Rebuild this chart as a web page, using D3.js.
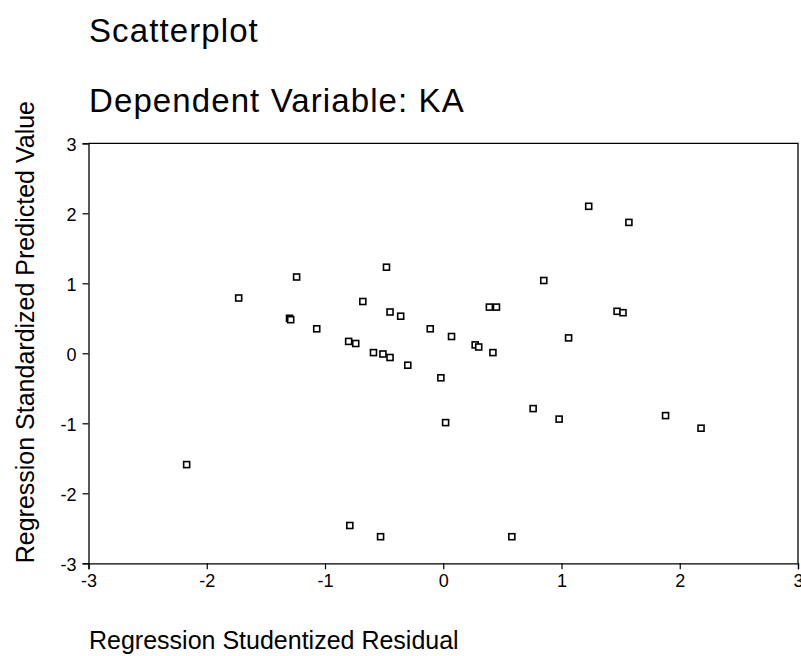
<!DOCTYPE html>
<html>
<head>
<meta charset="utf-8">
<script src="https://cdn.jsdelivr.net/npm/d3@7"></script>
<style>
    body { margin: 0; background: #fff; }
    text { font-family: "Liberation Sans", Arial, sans-serif; fill: #000; }
</style>
</head>
<body>
<div id="chart"></div>
<script>
// residual (x) vs standardized predicted value (y)
var residuals = [-2.17, -1.73, -1.24, -1.30, -1.29, -1.07, -0.80, -0.74, -0.79, -0.68,
    -0.59, -0.51, -0.53, -0.48, -0.45, -0.45, -0.36, -0.30, -0.11, -0.02,
    0.02, 0.07, 0.27, 0.30, 0.39, 0.45, 0.42, 0.58, 0.76, 0.85,
    0.98, 1.06, 1.23, 1.47, 1.52, 1.57, 1.88, 2.18]
var predicted = [-1.59, 0.79, 1.09, 0.50, 0.48, 0.35, 0.17, 0.14, -2.46, 0.74,
    0.01, -0.01, -2.62, 1.23, 0.59, -0.06, 0.53, -0.17, 0.35, -0.35,
    -0.99, 0.24, 0.12, 0.09, 0.66, 0.66, 0.01, -2.62, -0.79, 1.04,
    -0.94, 0.22, 2.10, 0.60, 0.58, 1.87, -0.89, -1.07]
var tickValues = [-3, -2, -1, 0, 1, 2, 3]
var titleLines = ["Scatterplot", "Dependent Variable: KA"]
var xLabel = "Regression Studentized Residual", yLabel = "Regression Standardized Predicted Value"

const width = 801, height = 656
const plot = {left: 88.5, right: 798, top: 143.3, bottom: 563.3}

var svg = d3.select("#chart").append("svg").attr("width", width).attr("height", height)

var x = d3.scaleLinear().domain([-3, 3]).range([plot.left, plot.right])
var y = d3.scaleLinear().domain([-3, 3]).range([plot.bottom, plot.top])

// titles
svg.selectAll("text.title").data(titleLines).enter().append("text").attr("class", "title")
    .attr("x", 89).attr("y", (d, i) => 41.7 + i * 70)
    .style("font-size", "33px").style("letter-spacing", "1.1px")
    .text(d => d)

// frame (top and right sides)
svg.append("path")
    .attr("d", "M" + plot.left + "," + plot.top + "H" + plot.right + "V" + plot.bottom)
    .attr("fill", "none").attr("stroke", "#000").attr("stroke-width", 1.3)

var xAxis = svg.append("g").attr("transform", "translate(0," + plot.bottom + ")")
    .call(d3.axisBottom(x).tickValues(tickValues).tickSize(6).tickPadding(5).tickFormat(d3.format("d")))
var yAxis = svg.append("g").attr("transform", "translate(" + plot.left + ",0)")
    .call(d3.axisLeft(y).tickValues(tickValues).tickSize(6).tickPadding(6).tickFormat(d3.format("d")))

svg.selectAll(".domain").attr("stroke-width", 1.3)
svg.selectAll(".tick line").attr("stroke-width", 1.2)
svg.selectAll(".tick text").attr("font-size", null).style("font-size", "18px")
// d3 uses a unicode minus, the original shows a plain hyphen
svg.selectAll(".tick text").text(d => String(d))
yAxis.selectAll(".tick text").attr("dy", "0.4em")

// axis titles
svg.append("text").attr("x", 89).attr("y", 649).style("font-size", "25px").text(xLabel)
svg.append("text").attr("transform", "translate(33.5," + plot.bottom + ") rotate(-90)")
    .style("font-size", "25px").text(yLabel)

// points: small open squares
var s = 6
svg.selectAll("rect.pt").data(residuals).enter().append("rect").attr("class", "pt")
    .attr("x", d => x(d) - s / 2)
    .attr("y", (d, i) => y(predicted[i]) - s / 2)
    .attr("width", s).attr("height", s)
    .attr("fill", "#fff").attr("stroke", "#000").attr("stroke-width", 1.6)
</script>
</body>
</html>
